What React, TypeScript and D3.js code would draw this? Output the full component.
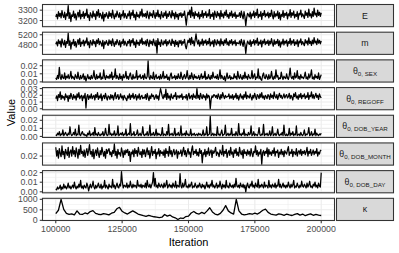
import React from 'react';
import * as d3 from 'd3';

const ITER_START = 100000;
const ITER_END = 200000;
const xTicks = [100000, 125000, 150000, 175000, 200000];

const traceE = [
  3235, 3260, 3215, 3285, 3240, 3270, 3225, 3295, 3250, 3230, 3280, 3210, 3265, 3245, 3345, 3220, 3275, 3190, 3255, 3240,
  3290, 3225, 3265, 3205, 3250, 3280, 3235, 3300, 3215, 3260, 3240, 3285, 3220, 3270, 3245, 3310, 3230, 3255, 3200, 3275,
  3250, 3225, 3290, 3240, 3265, 3210, 3285, 3245, 3305, 3230, 3270, 3250, 3215, 3280, 3195, 3260, 3235, 3275, 3245, 3220,
  3285, 3240, 3270, 3225, 3300, 3250, 3215, 3265, 3235, 3290, 3255, 3230, 3275, 3210, 3260, 3245, 3295, 3225, 3270, 3240,
  3220, 3265, 3245, 3290, 3215, 3275, 3250, 3300, 3230, 3260, 3205, 3280, 3240, 3255, 3225, 3285, 3245, 3310, 3235, 3265,
  3240, 3270, 3225, 3290, 3250, 3215, 3280, 3245, 3265, 3230, 3295, 3255, 3220, 3275, 3240, 3300, 3235, 3260, 3215, 3285,
  3250, 3230, 3275, 3245, 3290, 3220, 3265, 3240, 3285, 3255, 3225, 3295, 3245, 3270, 3215, 3280, 3235, 3260, 3210, 3270,
  3245, 3275, 3230, 3265, 3250, 3290, 3225, 3155, 3240, 3280, 3255, 3300, 3230, 3330, 3245, 3275, 3220, 3285, 3250, 3265,
  3235, 3280, 3215, 3260, 3240, 3295, 3225, 3270, 3250, 3285, 3230, 3265, 3245, 3305, 3220, 3260, 3240, 3275, 3210, 3290,
  3255, 3230, 3285, 3245, 3270, 3215, 3295, 3240, 3265, 3225, 3280, 3250, 3300, 3235, 3260, 3220, 3275, 3245, 3290, 3230,
  3265, 3240, 3280, 3220, 3255, 3240, 3245, 3275, 3230, 3290, 3250, 3215, 3285, 3240, 3150, 3225, 3270, 3255, 3235, 3280,
  3215, 3265, 3245, 3290, 3230, 3275, 3250, 3310, 3225, 3260, 3240, 3285, 3210, 3270, 3250, 3295, 3235, 3265, 3245, 3280,
  3225, 3270, 3240, 3300, 3250, 3215, 3285, 3235, 3265, 3245, 3290, 3220, 3275, 3205, 3260, 3240, 3295, 3230, 3270, 3250,
  3280, 3215, 3265, 3245, 3305, 3230, 3275, 3250, 3290, 3225, 3260, 3240, 3285, 3210, 3270, 3255, 3300, 3235, 3265, 3245,
  3220, 3290, 3250, 3275, 3230, 3310, 3245, 3265, 3225, 3285, 3240, 3320, 3255, 3270, 3235, 3300, 3250, 3280, 3240, 3275,
];

const traceM = [
  4830, 4920, 4760, 5000, 4850, 4950, 4720, 5040, 4880, 4800, 4980, 4700, 4930, 4860, 5260, 4780, 4960, 4640, 4900, 4840,
  5020, 4770, 4930, 4710, 4880, 5010, 4820, 5060, 4740, 4910, 4850, 4990, 4760, 4950, 4870, 5080, 4800, 4920, 4690, 4970,
  4880, 4790, 5010, 4850, 4940, 4730, 4990, 4860, 5050, 4810, 4950, 4870, 4750, 4980, 4660, 4920, 4830, 4970, 4860, 4780,
  5000, 4840, 4960, 4770, 5040, 4880, 4740, 4930, 4820, 5010, 4890, 4800, 4970, 4720, 4920, 4860, 5030, 4790, 4950, 4850,
  4760, 4940, 4870, 5010, 4750, 4980, 4880, 5050, 4800, 4920, 4700, 4990, 4840, 4900, 4780, 5000, 4860, 5070, 4820, 4930,
  4840, 4960, 4770, 5020, 4880, 4730, 4990, 4850, 4940, 4790, 5030, 4890, 4760, 4970, 4480, 5050, 4820, 4910, 4740, 5000,
  4870, 4800, 4960, 4850, 5010, 4760, 4930, 4840, 4990, 4880, 4780, 5030, 4860, 4950, 4740, 4980, 4820, 4920, 4720, 4970,
  4860, 4980, 4790, 4930, 4870, 5020, 4770, 4650, 4840, 4990, 4890, 5060, 4810, 5100, 4860, 4960, 4760, 5000, 5230, 4950,
  4830, 4990, 4750, 4920, 4840, 5030, 4780, 4960, 4870, 5000, 4800, 4940, 4850, 5060, 4760, 4920, 4840, 4970, 4730, 5010,
  4890, 4800, 5000, 4850, 4950, 4760, 5040, 4840, 4930, 4780, 4990, 4870, 5050, 4810, 4920, 4770, 4970, 4860, 5010, 4800,
  4930, 4850, 4990, 4770, 4900, 4860, 4850, 4960, 4790, 5020, 4880, 4740, 4990, 4840, 4470, 4780, 4950, 4880, 4820, 4990,
  4740, 4930, 4860, 5010, 4800, 4970, 4870, 5070, 4780, 4920, 4840, 4990, 4720, 4950, 4870, 5030, 4810, 4930, 4850, 4990,
  4780, 4950, 4840, 5050, 4870, 4750, 5000, 4820, 4940, 4860, 5020, 4770, 4960, 4710, 4920, 4840, 5030, 4800, 4950, 4870,
  4990, 4750, 4930, 4860, 5060, 4800, 4960, 4870, 5010, 4780, 4920, 4840, 5000, 4730, 4950, 4880, 5040, 4810, 4930, 4860,
  4770, 5010, 4870, 4960, 4800, 5080, 4860, 4940, 4780, 4990, 4840, 5090, 4880, 4950, 4810, 5040, 4870, 4980, 4840, 4960,
];

// theta traces in units of 1e-3
const thetaSexMilli = [
  5, 3, 8, 4, 18, 6, 3, 9, 5, 4, 11, 3, 7, 5, 9, 4, 6, 13, 4, 7,
  5, 3, 9, 6, 4, 12, 5, 3, 8, 4, 6, 10, 3, 7, 1, 5, 9, 4, 6, 3,
  8, 4, 6, 14, 5, 3, 9, 4, 7, 5, 11, 3, 6, 4, 15, 6, 3, 8, 5, 7,
  4, 9, 5, 12, 3, 7, 6, 16, 4, 8, 5, 3, 10, 4, 7, 2, 9, 5, 6, 13,
  4, 7, 3, 8, 11, 5, 3, 9, 4, 6, 5, 14, 3, 7, 6, 9, 4, 5, 8, 3,
  10, 5, 4, 7, 26, 6, 3, 8, 5, 4, 12, 3, 6, 9, 4, 5, 7, 3, 9, 4,
  6, 13, 4, 7, 5, 9, 3, 6, 2, 8, 11, 4, 6, 5, 8, 3, 7, 4, 10, 5,
  4, 12, 6, 3, 7, 9, 4, 6, 14, 5, 3, 8, 4, 11, 6, 3, 9, 5, 7, 4,
  5, 8, 3, 6, 10, 4, 7, 5, 13, 3, 6, 4, 9, 5, 3, 8, 4, 12, 6, 5,
  7, 4, 9, 3, 6, 15, 4, 8, 5, 3, 7, 1, 6, 11, 4, 5, 8, 3, 6, 4,
  4, 10, 5, 7, 3, 13, 6, 4, 9, 5, 3, 8, 4, 12, 5, 7, 3, 9, 6, 4,
  5, 14, 4, 7, 10, 3, 6, 5, 16, 4, 7, 3, 2, 8, 11, 5, 4, 9, 6, 3,
  9, 4, 6, 13, 5, 3, 7, 4, 15, 6, 8, 3, 5, 4, 12, 6, 3, 7, 5, 4,
  10, 5, 3, 8, 17, 6, 4, 7, 3, 11, 5, 6, 14, 4, 7, 3, 9, 5, 6, 4,
  7, 12, 4, 6, 3, 10, 5, 8, 15, 4, 6, 3, 9, 5, 7, 4, 11, 3, 6, 9,
];

const thetaRegoffMilli = [
  15, 19, 12, 21, 17, 25, 14, 20, 16, 18, 13, 22, 17, 19, 11, 20, 15, 23, 18, 14,
  21, 16, 19, 13, 22, 17, 24, 15, 18, 20, 12, 19, 16, 23, 1, 18, 21, 14, 19, 16,
  22, 15, 18, 20, 13, 21, 17, 24, 14, 19, 16, 22, 12, 18, 20, 15, 23, 17, 13, 19,
  18, 14, 21, 16, 20, 13, 19, 24, 15, 18, 21, 14, 17, 22, 16, 19, 13, 20, 17, 15,
  12, 19, 16, 22, 14, 20, 17, 23, 15, 18, 21, 13, 19, 16, 22, 14, 18, 20, 15, 17,
  16, 21, 14, 23, 17, 12, 19, 15, 22, 18, 20, 14, 17, 21, 15, 19, 13, 22, 30, 24,
  18, 15, 21, 17, 29, 14, 23, 16, 19, 13, 22, 17, 15, 20, 18, 24, 14, 19, 19, 16,
  20, 17, 22, 14, 18, 18, 16, 21, 13, 19, 23, 15, 18, 20, 14, 22, 17, 19, 15, 30,
  16, 20, 14, 23, 18, 15, 21, 17, 19, 13, 22, 16, 20, 18, 0, 14, 19, 17, 21, 20,
  17, 20, 15, 22, 18, 14, 21, 16, 24, 19, 15, 20, 17, 18, 18, 22, 15, 19, 16, 21,
  14, 19, 17, 23, 15, 20, 13, 18, 22, 16, 19, 14, 21, 17, 25, 15, 20, 18, 16, 22,
  17, 13, 20, 16, 23, 18, 14, 21, 19, 15, 22, 17, 24, 16, 19, 14, 20, 18, 15, 21,
  19, 14, 22, 17, 20, 15, 25, 18, 16, 21, 14, 19, 23, 17, 20, 15, 18, 22, 16, 19,
  21, 16, 18, 23, 15, 20, 17, 13, 22, 18, 24, 16, 19, 14, 21, 17, 23, 15, 20, 18,
  22, 15, 19, 17, 24, 14, 20, 18, 25, 16, 21, 15, 19, 23, 17, 20, 14, 22, 18, 16,
];

const thetaDobYearMilli = [
  2, 1, 4, 2, 6, 1, 3, 2, 8, 1, 3, 5, 2, 1, 4, 2, 12, 3, 1, 2,
  5, 2, 9, 1, 3, 2, 14, 2, 1, 4, 6, 2, 3, 1, 2, 0, 4, 2, 7, 1,
  3, 2, 5, 1, 11, 2, 3, 1, 5, 2, 1, 3, 2, 6, 1, 2, 10, 3, 1, 2,
  15, 2, 4, 1, 3, 2, 7, 1, 3, 2, 13, 1, 2, 4, 2, 5, 1, 3, 2, 9,
  1, 2, 4, 2, 16, 1, 3, 2, 6, 1, 2, 3, 8, 1, 2, 4, 1, 3, 12, 2,
  1, 3, 2, 6, 1, 2, 14, 1, 3, 2, 5, 1, 2, 9, 1, 4, 2, 3, 1, 2,
  11, 1, 3, 2, 1, 6, 2, 15, 1, 3, 2, 4, 1, 2, 10, 1, 3, 2, 5, 1,
  2, 13, 1, 3, 2, 4, 1, 7, 2, 3, 1, 2, 9, 1, 3, 2, 4, 1, 2, 3,
  1, 4, 2, 3, 1, 2, 8, 1, 3, 2, 12, 1, 2, 3, 25, 1, 2, 4, 1, 3,
  2, 1, 12, 2, 3, 1, 4, 8, 1, 2, 3, 14, 1, 2, 4, 1, 3, 2, 10, 1,
  2, 3, 1, 6, 2, 1, 16, 2, 3, 1, 4, 2, 9, 1, 3, 2, 1, 5, 2, 3,
  13, 1, 2, 6, 1, 3, 2, 1, 4, 11, 2, 1, 3, 2, 15, 1, 3, 2, 4, 1,
  2, 7, 1, 3, 12, 1, 2, 4, 1, 3, 9, 2, 1, 3, 2, 5, 1, 14, 2, 1,
  3, 1, 2, 10, 1, 4, 2, 6, 1, 3, 2, 13, 1, 2, 3, 1, 5, 2, 1, 3,
  8, 1, 3, 2, 4, 11, 1, 2, 6, 1, 3, 2, 9, 1, 4, 2, 1, 3, 2, 4,
];

const thetaDobMonthMilli = [
  33, 20, 28, 17, 31, 24, 19, 35, 22, 27, 16, 30, 25, 21, 33, 18, 26, 29, 20, 34,
  23, 28, 19, 32, 25, 17, 30, 22, 36, 24, 27, 20, 29, 18, 26, 31, 21, 28, 37, 23,
  27, 19, 30, 16, 25, 29, 21, 32, 24, 18, 28, 22, 33, 26, 20, 27, 17, 30, 24, 29,
  31, 22, 26, 19, 28, 24, 38, 21, 27, 17, 30, 23, 25, 20, 32, 26, 18, 28, 22, 29,
  25, 30, 21, 27, 12, 26, 23, 29, 19, 31, 24, 28, 20, 33, 25, 22, 27, 18, 30, 23,
  29, 19, 26, 32, 22, 28, 17, 25, 34, 21, 27, 24, 30, 16, 26, 23, 31, 20, 28, 24,
  26, 21, 29, 18, 31, 24, 27, 20, 34, 23, 28, 19, 26, 30, 22, 25, 29, 17, 27, 23,
  24, 29, 20, 27, 33, 22, 28, 19, 25, 31, 23, 26, 18, 29, 35, 22, 27, 24, 30, 21,
  26, 20, 31, 24, 28, 10, 25, 22, 30, 19, 27, 23, 32, 21, 26, 29, 18, 28, 24, 27,
  33, 21, 26, 24, 19, 29, 25, 22, 36, 20, 27, 24, 30, 18, 25, 28, 21, 33, 23, 26,
  18, 29, 24, 31, 21, 26, 20, 33, 25, 22, 28, 17, 30, 24, 26, 21, 29, 23, 27, 20,
  31, 24, 19, 27, 25, 35, 22, 28, 20, 26, 23, 30, 8, 25, 28, 21, 27, 24, 32, 19,
  30, 23, 26, 21, 28, 24, 32, 20, 27, 25, 29, 18, 26, 23, 30, 22, 27, 19, 28, 25,
  23, 29, 34, 21, 26, 24, 30, 19, 27, 25, 22, 31, 20, 26, 28, 23, 30, 21, 27, 24,
  28, 22, 26, 33, 20, 27, 24, 30, 21, 25, 29, 22, 27, 24, 31, 20, 26, 23, 28, 29,
];

const thetaDobDayMilli = [
  3, 2, 5, 3, 4, 7, 2, 5, 3, 8, 4, 6, 3, 5, 9, 4, 6, 3, 5, 7,
  4, 10, 5, 3, 6, 4, 8, 5, 12, 4, 6, 3, 7, 5, 4, 9, 6, 1, 5, 8,
  4, 6, 11, 5, 3, 7, 4, 6, 9, 5, 4, 8, 3, 6, 5, 12, 4, 7, 5, 3,
  8, 5, 6, 4, 13, 5, 7, 3, 6, 9, 5, 4, 8, 6, 21, 10, 4, 7, 6, 5,
  9, 4, 7, 5, 11, 6, 4, 8, 5, 7, 6, 4, 12, 6, 7, 5, 8, 4, 7, 6,
  5, 9, 4, 12, 6, 5, 8, 4, 7, 10, 20, 6, 14, 5, 7, 4, 9, 6, 5, 8,
  6, 4, 9, 5, 7, 12, 4, 6, 8, 5, 7, 4, 9, 6, 5, 11, 4, 7, 6, 5,
  19, 6, 4, 9, 5, 7, 13, 5, 6, 4, 8, 5, 7, 10, 4, 6, 5, 9, 6, 4,
  7, 5, 9, 6, 4, 8, 5, 7, 3, 6, 10, 5, 7, 4, 8, 6, 12, 5, 7, 4,
  6, 9, 4, 7, 5, 11, 6, 3, 8, 5, 7, 4, 12, 5, 6, 4, 9, 6, 5, 7,
  4, 8, 5, 14, 6, 5, 7, 4, 9, 6, 5, 8, 4, 7, 0, 6, 9, 5, 4, 8,
  6, 11, 5, 7, 4, 9, 6, 5, 13, 4, 7, 5, 8, 6, 4, 10, 5, 7, 6, 4,
  12, 5, 7, 4, 8, 6, 5, 9, 4, 7, 6, 13, 5, 8, 4, 6, 9, 5, 7, 4,
  7, 5, 10, 6, 4, 8, 5, 7, 12, 4, 6, 5, 9, 6, 4, 7, 5, 11, 6, 5,
  8, 6, 4, 9, 5, 7, 11, 5, 6, 4, 8, 6, 10, 5, 7, 4, 9, 6, 5, 20,
];

const traceKappa = [
  320, 480, 1000, 520, 330, 280, 310, 260, 450, 300,
  280, 350, 310, 420, 460, 330, 290, 270, 320, 300,
  260, 340, 380, 550, 620, 430, 350, 300, 380, 450,
  380, 300, 260, 220, 190, 240, 200, 170, 150, 130,
  150, 280, 200, 250, 160, 120, 40, 110, 90, 180,
  200, 350, 420, 330, 300, 380, 320, 450, 600, 400,
  300, 260, 330, 480, 700, 450, 350, 300, 1000, 450,
  300, 260, 280, 320, 290, 340, 300, 380, 480, 530,
  380, 300, 270, 250, 310, 280, 240, 300, 260, 230,
  280, 320, 250, 300, 220, 270, 310, 240, 280, 250, 230,
];

const toUnit = (a: number[]) => a.map((v) => v / 1000);

const yTicksE = [3200, 3300];
const yTicksM = [4800, 5200];
const yTicksSex = [0, 0.01, 0.02];
const yTicksRegoff = [0, 0.01, 0.02, 0.03];
const yTicksDobYear = [0, 0.01, 0.02];
const yTicksDobMonth = [0, 0.02];
const yTicksDobDay = [0, 0.01, 0.02];
const yTicksKappa = [0, 500, 1000];

const stripMain = ['E', 'm', 'θ', 'θ', 'θ', 'θ', 'θ', 'κ'];
const stripSub = ['', '', '0, SEX', '0, REGOFF', '0, DOB_YEAR', '0, DOB_MONTH', '0, DOB_DAY', ''];

const panelValues = [
  traceE,
  traceM,
  toUnit(thetaSexMilli),
  toUnit(thetaRegoffMilli),
  toUnit(thetaDobYearMilli),
  toUnit(thetaDobMonthMilli),
  toUnit(thetaDobDayMilli),
  traceKappa,
];
const panelTicks = [yTicksE, yTicksM, yTicksSex, yTicksRegoff, yTicksDobYear, yTicksDobMonth, yTicksDobDay, yTicksKappa];
const panelFormats = [d3.format('d'), d3.format('d'), d3.format('.2f'), d3.format('.2f'), d3.format('.2f'), d3.format('.2f'), d3.format('.2f'), d3.format('d')];
const panelStroke = [1.25, 1.25, 1.25, 1.25, 1.25, 1.25, 1.25, 1.3];

const W = 399;
const H = 253;
const LEFT = 42.5;
const RIGHT = 334.5;
const TOP = 4.5;
const BOTTOM = 220.5;
const GAP = 5.5;
const NP = 8;
const PH = (BOTTOM - TOP - (NP - 1) * GAP) / NP;
const STRIP_X0 = 336.5;
const STRIP_X1 = 393.5;
const FONT = '"Liberation Sans", Arial, Helvetica, sans-serif';
const BORDER = '#333333';
const GRID = '#EBEBEB';
const LW = 1.07;

function expand(ext: [number, number]): [number, number] {
  const r = ext[1] - ext[0];
  return [ext[0] - 0.05 * r, ext[1] + 0.05 * r];
}

function minorBreaks(major: number[], domain: [number, number]) {
  const out: number[] = [];
  const step = major.length > 1 ? major[1] - major[0] : (domain[1] - domain[0]) / 2;
  for (let v = major[0] - step / 2; v <= domain[1] + 1e-12; v += step) {
    if (v >= domain[0] && v <= domain[1]) out.push(v);
  }
  return out;
}

export default function App() {
  const x = d3
    .scaleLinear()
    .domain(expand([ITER_START, ITER_END]))
    .range([LEFT, RIGHT]);
  const xDom = x.domain() as [number, number];
  const xMinor = minorBreaks(xTicks, xDom);

  const panels = panelValues.map((vals, p) => {
    const y0 = TOP + p * (PH + GAP);
    const dom = expand(d3.extent(vals) as [number, number]);
    const y = d3.scaleLinear().domain(dom).range([y0 + PH, y0]);
    const n = vals.length;
    const pts = vals.map((v, i) => [ITER_START + (i * (ITER_END - ITER_START)) / (n - 1), v] as [number, number]);
    const line = d3
      .line<[number, number]>()
      .x((d) => x(d[0]))
      .y((d) => y(d[1]));
    const ticks = panelTicks[p].filter((t) => t >= dom[0] && t <= dom[1]);
    const yMinor = minorBreaks(panelTicks[p], dom);
    return { y0, y, path: line(pts) || '', ticks, yMinor, fmt: panelFormats[p] };
  });

  return (
    <svg
      width={W}
      height={H}
      style={{ position: 'absolute', left: 0, top: 0, background: '#fff' }}
      fontFamily={FONT}
    >
      <rect x={0} y={0} width={W} height={H} fill="#fff" />
      {panels.map((pn, p) => (
        <g key={p}>
          <rect x={LEFT} y={pn.y0} width={RIGHT - LEFT} height={PH} fill="#fff" />
          {xMinor.map((v) => (
            <line key={'xm' + v} x1={x(v)} x2={x(v)} y1={pn.y0} y2={pn.y0 + PH} stroke={GRID} strokeWidth={0.53} />
          ))}
          {pn.yMinor.map((v) => (
            <line key={'ym' + v} x1={LEFT} x2={RIGHT} y1={pn.y(v)} y2={pn.y(v)} stroke={GRID} strokeWidth={0.53} />
          ))}
          {xTicks.map((v) => (
            <line key={'xM' + v} x1={x(v)} x2={x(v)} y1={pn.y0} y2={pn.y0 + PH} stroke={GRID} strokeWidth={LW} />
          ))}
          {pn.ticks.map((v) => (
            <line key={'yM' + v} x1={LEFT} x2={RIGHT} y1={pn.y(v)} y2={pn.y(v)} stroke={GRID} strokeWidth={LW} />
          ))}
          <path d={pn.path} fill="none" stroke="#000" strokeWidth={panelStroke[p]} strokeLinejoin="round" />
          <rect x={LEFT} y={pn.y0} width={RIGHT - LEFT} height={PH} fill="none" stroke={BORDER} strokeWidth={LW} />
          {pn.ticks.map((v) => (
            <g key={'yt' + v}>
              <line x1={LEFT - 2.75} x2={LEFT} y1={pn.y(v)} y2={pn.y(v)} stroke={BORDER} strokeWidth={LW} />
              <text x={LEFT - 4.9} y={pn.y(v) + 3.1} fontSize={8.8} fill="#4D4D4D" textAnchor="end">
                {pn.fmt(v)}
              </text>
            </g>
          ))}
          <rect
            x={STRIP_X0}
            y={pn.y0}
            width={STRIP_X1 - STRIP_X0}
            height={PH}
            fill="#D9D9D9"
            stroke={BORDER}
            strokeWidth={LW}
          />
          <text
            x={(STRIP_X0 + STRIP_X1) / 2}
            y={pn.y0 + PH / 2 + 3}
            fontSize={8.8}
            fill="#1A1A1A"
            textAnchor="middle"
          >
            {stripMain[p]}
            {stripSub[p] ? (
              <tspan fontSize={6.2} dy={2}>
                {stripSub[p]}
              </tspan>
            ) : null}
          </text>
        </g>
      ))}
      {xTicks.map((v) => (
        <g key={'xt' + v}>
          <line x1={x(v)} x2={x(v)} y1={BOTTOM} y2={BOTTOM + 2.75} stroke={BORDER} strokeWidth={LW} />
          <text x={x(v)} y={BOTTOM + 11.6} fontSize={8.8} fill="#4D4D4D" textAnchor="middle">
            {d3.format('d')(v)}
          </text>
        </g>
      ))}
      <text x={(LEFT + RIGHT) / 2} y={245.5} fontSize={11} fill="#000" textAnchor="middle">
        Iteration
      </text>
      <text
        transform={`translate(14.5, ${(TOP + BOTTOM) / 2}) rotate(-90)`}
        fontSize={11}
        fill="#000"
        textAnchor="middle"
      >
        Value
      </text>
    </svg>
  );
}
